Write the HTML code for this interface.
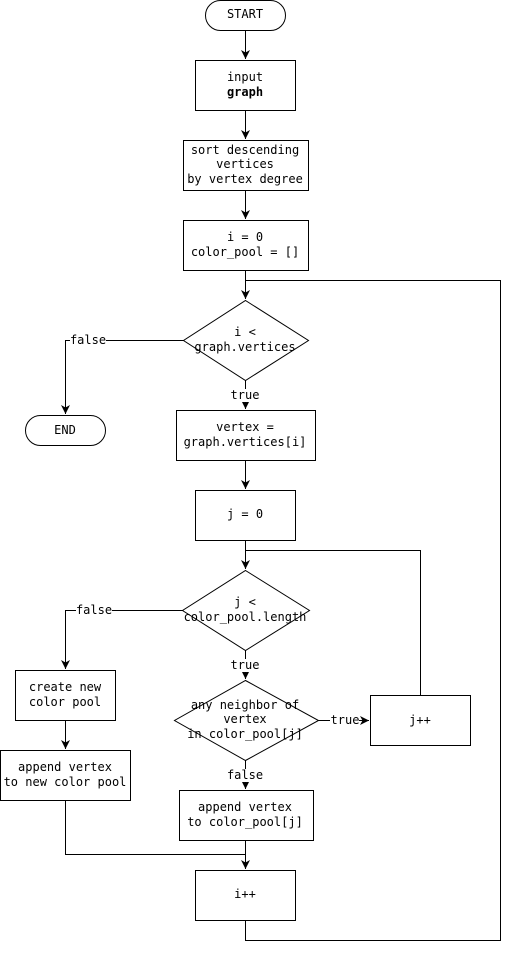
<!DOCTYPE html>
<html><head><meta charset="utf-8"><style>
html,body{margin:0;padding:0;background:#fff;}
svg text{font-family:"DejaVu Sans Mono","Liberation Mono",monospace;font-size:12px;fill:#000;text-anchor:middle;}
.l{fill:#fff;}
</style></head><body>
<svg width="510" height="950" viewBox="0 0 510 950" xmlns="http://www.w3.org/2000/svg">
<defs><marker id="a" markerWidth="10" markerHeight="10" refX="9" refY="5" orient="auto" markerUnits="userSpaceOnUse"><path d="M0,0.5 L9,5 L0,9.5 L2.5,5 z" fill="#000"/></marker></defs>
<g fill="none" stroke="#000" stroke-width="1">
<rect x="205.5" y="0.5" width="80" height="30" rx="15"/>
<rect x="195.5" y="60.5" width="100" height="50"/>
<rect x="183.5" y="140.5" width="125" height="50"/>
<rect x="183.5" y="220.5" width="125" height="50"/>
<path d="M245.5,300.5 L308.5,340.5 L245.5,380.5 L183.5,340.5 Z"/>
<rect x="25.5" y="415.5" width="80" height="30" rx="15"/>
<rect x="176.5" y="410.5" width="139" height="50"/>
<rect x="195.5" y="490.5" width="100" height="50"/>
<path d="M245.5,570.5 L309.5,610.5 L245.5,650.5 L182.5,610.5 Z"/>
<rect x="15.5" y="670.5" width="100" height="50"/>
<rect x="0.5" y="750.5" width="130" height="50"/>
<path d="M245.5,680.5 L318.5,720.5 L245.5,760.5 L174.5,720.5 Z"/>
<rect x="370.5" y="695.5" width="100" height="50"/>
<rect x="179.5" y="790.5" width="134" height="50"/>
<rect x="195.5" y="870.5" width="100" height="50"/>
<path d="M245.5,30.5 V59" marker-end="url(#a)"/>
<path d="M245.5,110.5 V139" marker-end="url(#a)"/>
<path d="M245.5,190.5 V219" marker-end="url(#a)"/>
<path d="M245.5,270.5 V299" marker-end="url(#a)"/>
<path d="M245.5,920.5 V940.5 H500.5 V280.5 H245.5"/>
<path d="M183.5,340.5 H65.5 V414" marker-end="url(#a)"/>
<path d="M245.5,380.5 V409" marker-end="url(#a)"/>
<path d="M245.5,460.5 V489" marker-end="url(#a)"/>
<path d="M245.5,540.5 V569" marker-end="url(#a)"/>
<path d="M420.5,695.5 V550.5 H245.5"/>
<path d="M182.5,610.5 H65.5 V669" marker-end="url(#a)"/>
<path d="M65.5,720.5 V749" marker-end="url(#a)"/>
<path d="M65.5,800.5 V854.5 H245.5"/>
<path d="M245.5,650.5 V679" marker-end="url(#a)"/>
<path d="M318.5,720.5 H369" marker-end="url(#a)"/>
<path d="M245.5,760.5 V789" marker-end="url(#a)"/>
<path d="M245.5,840.5 V869" marker-end="url(#a)"/>
</g>
<rect class="l" x="70" y="334" width="36" height="13"/><text x="88" y="344">false</text>
<rect class="l" x="76" y="604" width="36" height="13"/><text x="94" y="614">false</text>
<rect class="l" x="231" y="389" width="29" height="13"/><text x="245" y="399">true</text>
<rect class="l" x="330" y="714" width="29" height="13"/><text x="345" y="724">true</text>
<rect class="l" x="231" y="659" width="29" height="13"/><text x="245" y="669">true</text>
<rect class="l" x="227" y="769" width="36" height="13"/><text x="245" y="779">false</text>
<text x="245" y="18">START</text>
<text x="245" y="81">input</text>
<text x="245" y="96" style="font-weight:bold">graph</text>
<text x="245" y="154">sort descending</text>
<text x="245" y="168">vertices</text>
<text x="245" y="183">by vertex degree</text>
<text x="245" y="241">i = 0</text>
<text x="245" y="256">color_pool = []</text>
<text x="245" y="336">i &lt;</text>
<text x="245" y="351">graph.vertices</text>
<text x="65" y="434">END</text>
<text x="245" y="431">vertex =</text>
<text x="245" y="446">graph.vertices[i]</text>
<text x="245" y="518">j = 0</text>
<text x="245" y="606">j &lt;</text>
<text x="245" y="621">color_pool.length</text>
<text x="65" y="691">create new</text>
<text x="65" y="706">color pool</text>
<text x="65" y="771">append vertex</text>
<text x="65" y="786">to new color pool</text>
<text x="245" y="709">any neighbor of</text>
<text x="245" y="723">vertex</text>
<text x="245" y="738">in color_pool[j]</text>
<text x="420" y="724">j++</text>
<text x="245" y="811">append vertex</text>
<text x="245" y="826">to color_pool[j]</text>
<text x="245" y="898">i++</text>
</svg>
</body></html>
